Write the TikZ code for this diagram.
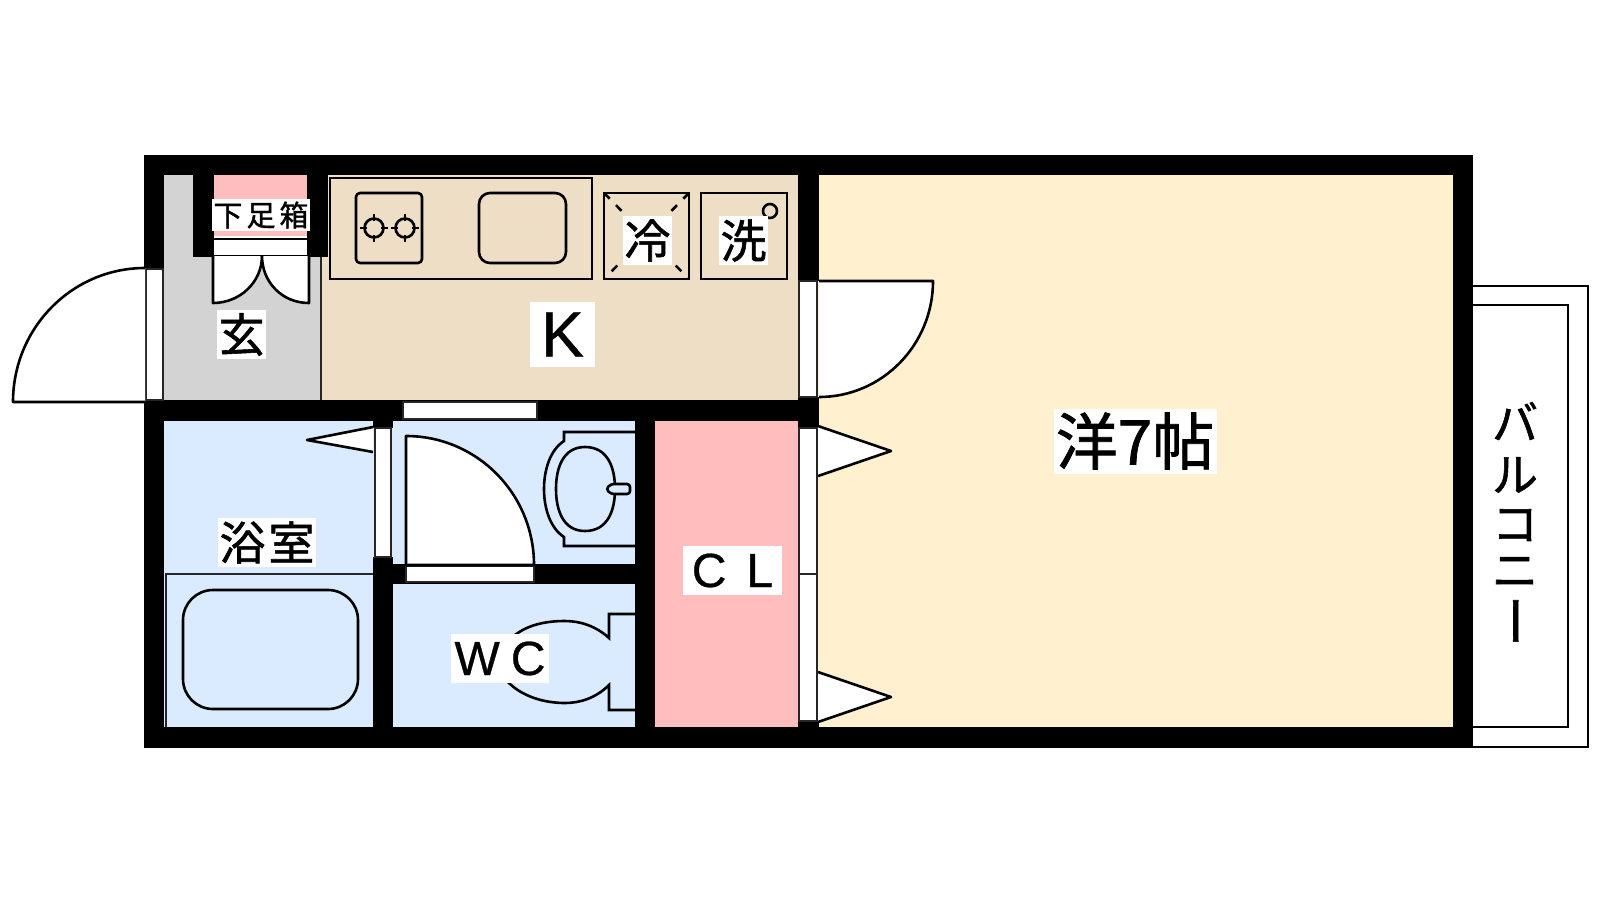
\documentclass[tikz,border=0pt]{standalone}
\usepackage{fontspec}
\usepackage{xcolor}
\setmainfont[FakeBold=1.2]{Noto Sans CJK JP}
\newfontfamily\latinfont[FakeBold=0.6]{Liberation Sans}
\definecolor{entrygray}{HTML}{D3D3D3}
\definecolor{kitchentan}{HTML}{EEDEC5}
\definecolor{closetpink}{HTML}{FFBDBD}
\definecolor{bathblue}{HTML}{DBEBFF}
\definecolor{roomcream}{HTML}{FFF0D0}
\newcommand{\labelsize}[1]{\fontsize{#1}{#1}\selectfont}
\begin{document}
\begin{tikzpicture}[x=1pt,y=-1pt,
    plan/.style={draw=black,line width=2.6pt},
    thin plan/.style={draw=black!85,line width=2pt},
    leaf/.style={plan,fill=white,line join=round},
    tag/.style={fill=white,inner sep=0pt,text=black,anchor=center}]
  \useasboundingbox (0,0) rectangle (1600,900);

  % rooms
  \fill[entrygray] (160,170) rectangle (321,402);
  \fill[kitchentan] (321,170) rectangle (800,402);
  \fill[closetpink] (214,170) rectangle (307,236);
  \fill[white] (214,236) rectangle (307,256);
  \fill[bathblue] (160,418) rectangle (375,730);
  \fill[bathblue] (391,418) rectangle (637,730);
  \fill[closetpink] (653,418) rectangle (800,730);
  \fill[roomcream] (817,170) rectangle (1455,730);

  % walls
  \fill[black] (144,155) rectangle (1473,175);
  \fill[black] (144,155) rectangle (164,269);
  \fill[black] (144,400) rectangle (164,748);
  \fill[black] (144,727) rectangle (1473,748);
  \fill[black] (1453,155) rectangle (1473,748);
  \fill[black] (144,400) rectangle (819,421);
  \fill[black] (193,155) rectangle (214,257);
  \fill[black] (307,155) rectangle (328,257);
  \fill[black] (193,255) rectangle (328,257);
  \fill[black] (798,155) rectangle (819,281);
  \fill[black] (798,397) rectangle (819,428);
  \fill[black] (798,721) rectangle (819,748);
  \fill[black] (373,421) rectangle (393,428);
  \fill[black] (373,557) rectangle (393,748);
  \fill[black] (393,564) rectangle (635,584);
  \fill[black] (635,421) rectangle (655,748);
  \draw[thin plan] (321,257) -- (321,400);

  % balcony
  \draw[plan] (1461,286) -- (1588,286) -- (1588,747) -- (1461,747);
  \draw[plan] (1473,305) -- (1568,305) -- (1568,727) -- (1473,727);

  % door frames
  \draw[thin plan,fill=white] (146,269) rectangle (163,400);
  \draw[thin plan,fill=white] (799,281) rectangle (817,397);
  \draw[thin plan,fill=white] (799,428) rectangle (817,574);
  \draw[thin plan,fill=white] (799,574) rectangle (817,721);
  \draw[thin plan,fill=white] (375,428) rectangle (391,557);
  \draw[thin plan,fill=white] (403,402) rectangle (537,419);
  \draw[thin plan,fill=white] (406,566) rectangle (534,582);
  \draw[plan] (214,239) -- (307,239);
  \draw[plan] (214,256) -- (307,256);

  % door leaves
  \draw[leaf] (145,268) .. controls (72,268) and (13,328) .. (13,402) -- (145,402);
  \draw[leaf] (819,281) -- (933,281) .. controls (933,345) and (882,397) .. (819,397);
  \draw[leaf] (406,565) -- (406,436) .. controls (477,436) and (534,494) .. (534,565) -- cycle;
  \draw[leaf] (213,256) -- (213,303) .. controls (240,303) and (262,282) .. (262,256);
  \draw[leaf] (309,256) -- (309,303) .. controls (282,303) and (262,282) .. (262,256);
  \draw[leaf] (373,427) -- (307,440) -- (373,452);
  \foreach \y in {426,672}
  \draw[leaf] (818,\y) -- +(73,25) -- +(0,50);

  % kitchen fittings
  \draw[plan] (330,178) rectangle (592,279);
  \draw[plan,rounded corners=4pt] (356,193) rectangle (422,263);
  \draw[plan,rounded corners=11pt] (479,193) rectangle (566,263);
  \foreach \x in {374,405} {
    \draw[plan] (\x,228) circle (9.5);
    \draw[plan] (\x-14,228) -- +(7,0);
    \draw[plan] (\x+7,228) -- +(7,0);
    \draw[plan] (\x,214) -- +(0,7);
    \draw[plan] (\x,235) -- +(0,7);
  }
  \draw[plan] (604,193) rectangle (689,279);
  \draw[plan,dash pattern=on 8pt off 9pt] (604,193) -- (689,279);
  \draw[plan,dash pattern=on 8pt off 9pt] (689,193) -- (604,279);
  \draw[plan] (701,193) rectangle (787,279);
  \draw[plan] (770,211) circle (7);

  % bath and washroom
  \draw[thin plan] (373,574) -- (166,574) -- (166,727);
  \draw[plan,rounded corners=30pt] (183,590) rectangle (358,709);
  \draw[plan] (635,432) -- (564,432) -- (564,441) .. controls (550,450) and (544,470) .. (544,489)
    .. controls (544,508) and (550,528) .. (564,537) -- (564,546) -- (635,546);
  \draw[plan] (585,447) .. controls (608,447) and (615,468) .. (615,489) .. controls (615,510) and (608,531) .. (585,531)
    .. controls (563,531) and (556,510) .. (556,489) .. controls (556,468) and (563,447) .. (585,447) -- cycle;
  \draw[plan,fill=bathblue,rounded corners=3pt] (630,484) -- (611,484) -- (606,489) -- (611,494) -- (630,494) -- cycle;
  \draw[plan] (635,614) -- (609,614) -- (609,638) .. controls (596,626) and (580,621) .. (565,621)
    .. controls (545,621) and (528,625) .. (515,635);
  \draw[plan] (507,681) .. controls (522,697) and (545,703) .. (565,703)
    .. controls (580,703) and (596,698) .. (609,685) -- (609,710) -- (635,710);

  % labels
  \node[tag,minimum width=98,minimum height=32] (shoebox) at (261,215) {\labelsize{29}下\hspace{4pt}足\hspace{4pt}箱};
  \node[tag,minimum width=49,minimum height=49] (genkan) at (241.5,334.5) {\labelsize{46}玄};
  \node[tag,minimum width=65,minimum height=65] (kitchen) at (562.5,334.5) {\latinfont\labelsize{64}K};
  \node[tag,minimum width=49,minimum height=49] (fridge) at (647.5,240.5) {\labelsize{46}冷};
  \node[tag,minimum width=49,minimum height=49] (washer) at (743.5,240.5) {\labelsize{46}洗};
  \node[tag,minimum width=98,minimum height=49] (bath) at (267,542.5) {\labelsize{46}浴\hspace{3pt}室};
  \node[tag,minimum width=98,minimum height=49] (toilet) at (500,658.5) {\latinfont\labelsize{48}W\hspace{11pt}C\hspace{9pt}};
  \node[tag,minimum width=99,minimum height=49] (closet) at (732.5,570.5) {\latinfont\labelsize{48}C\hspace{20pt}L\hspace{2pt}};
  \node[tag,minimum width=163,minimum height=65] (western) at (1135,441) {\labelsize{62}洋7帖};
  \foreach \c/\y in {バ/421,ル/475,コ/525,ニ/572}
  \node[text=black,inner sep=0pt] (balcony\y) at (1515,\y) {\labelsize{46}\c};
  \node[text=black,inner sep=0pt,rotate=-90] (balcony621) at (1507,621) {\labelsize{52}ー};
\end{tikzpicture}
\end{document}
